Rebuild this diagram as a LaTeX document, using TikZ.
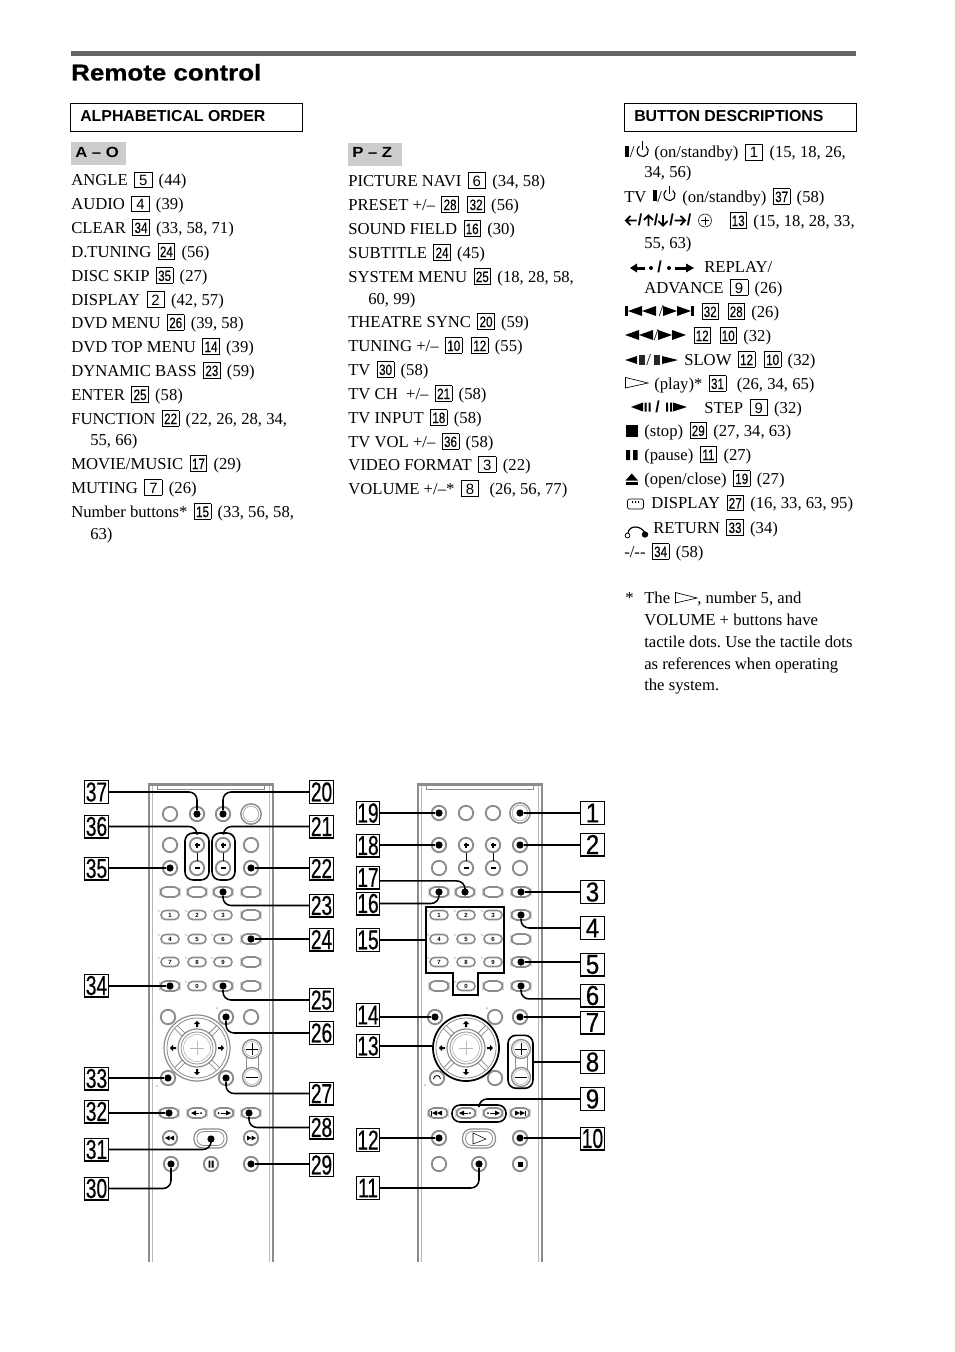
\documentclass[tikz,border=0pt]{standalone}
\usepackage{fontspec}
\usepackage{graphicx}
\setmainfont{Liberation Serif}
\newfontfamily\ssf{Liberation Sans}
\newfontfamily\ssfb[FakeBold=0.3]{Liberation Sans}
\newfontfamily\ssfc[FakeBold=0.6]{Liberation Sans}
\frenchspacing
\definecolor{rg}{gray}{0.55}
\definecolor{rl}{gray}{0.72}
\newcounter{tc}
\newcommand\tln[3]{\stepcounter{tc}\node[tx] (t\arabic{tc}) at (#1,#2) {#3};}
\newcommand\bxa[1]{\kern1.7pt\relax{\fboxsep=0pt\fboxrule=0.5pt\fbox{\makebox[12.6pt]{\rule[-1.2pt]{0pt}{10.9pt}\fontsize{11.2}{12}\ssf #1}}}\kern1.7pt\relax}
\newcommand\bxb[1]{\kern1.7pt\relax{\fboxsep=0pt\fboxrule=0.5pt\fbox{\makebox[12pt]{\rule[-1.2pt]{0pt}{10.9pt}\scalebox{0.78}[1]{\fontsize{11.2}{12}\ssfb #1}}}}\kern1.7pt\relax}
\newcommand\csa[1]{\scalebox{0.88}[1]{#1}}
\newcommand\csb[1]{\scalebox{0.70}[1]{#1}}
% remote parts
\newcommand\rbt[2]{\draw[rg,line width=1.4pt] (#1,#2) circle[radius=7.2];}
\newcommand\rbig[2]{\draw[rg,line width=1.1pt] (#1,#2) circle[radius=10.2]; \draw[rl,line width=.7pt] (#1,#2) circle[radius=7.8];}
\newcommand\ovb[2]{\draw[rg,line width=1.3pt,rounded corners=3.9pt] (#1-9.5,#2-5) rectangle (#1+9.5,#2+5);}
\newcommand\ovn[3]{\draw[rg,line width=1.2pt,rounded corners=3.3pt] (#1-9,#2-4.5) rectangle (#1+9,#2+4.5);
  \draw[rl,line width=.6pt] (#1-12,#2-5) -- (#1-10.5,#2-3.5);
  \stepcounter{tc}\node[tiny num] (t\arabic{tc}) at (#1,#2) {#3};}
\newcommand\plusb[2]{\rbt{#1}{#2}\draw[line width=.8pt] (#1-2.5,#2) -- (#1+2.5,#2) (#1,#2-2.5) -- (#1,#2+2.5);}
\newcommand\minb[2]{\rbt{#1}{#2}\draw[line width=.8pt] (#1-2.5,#2) -- (#1+2.5,#2);}
\newcommand\triL[4]{\fill (#1,#2) -- (#1+#3,#2-#4) -- (#1+#3,#2+#4) -- cycle;}
\newcommand\triR[4]{\fill (#1,#2-#4) -- (#1+#3,#2) -- (#1,#2+#4) -- cycle;}
\newcommand\arw[4]{\fill[shift={(#1,#2)},rotate=#3] (0,-3.2) -- (3,0) -- (1,0) -- (1,3) -- (-1,3) -- (-1,0) -- (-3,0) -- cycle;}
\newcommand\chev[3]{\draw[shift={(#1,#2)},rotate=#3,line width=1.25pt] (0,-5) -- (0,5.5) (-4.6,-.5) -- (0,-5.2) -- (4.6,-.5);}
\newcommand\dpd[2]{
  \draw[rg,line width=.9pt] (#1,#2) circle[radius=33];
  \draw[rg,line width=.6pt] (#1,#2) circle[radius=30];
  \draw[rg,line width=.9pt] (#1,#2) circle[radius=19];
  \draw[rg,line width=.6pt] (#1,#2) circle[radius=16];
  \draw[rl,line width=.5pt] (#1,#2) circle[radius=13.5];
  \foreach \a in {45,135,225,315}{
    \draw[rg,line width=.6pt,rotate around={\a:(#1,#2)}] (#1+19,#2-2) -- (#1+30,#2-2) (#1+19,#2+2) -- (#1+30,#2+2);}
  \draw[rl,line width=.4pt] (#1-7,#2) -- (#1+7,#2) (#1,#2-7) -- (#1,#2+7);
  \arw{#1}{#2-24}{0}{}\arw{#1}{#2+24}{180}{}\arw{#1-24}{#2}{90}{}\arw{#1+24}{#2}{270}{}
}
\newcommand\volp[1]{
  \draw[rg,line width=.7pt] (#1-6,1056) -- (#1-6,1070) (#1+6,1056) -- (#1+6,1070);
  \draw[rg,line width=1pt] (#1,1049) circle[radius=9.5] (#1,1077) circle[radius=9.5];
  \draw[rl,line width=.5pt] (#1,1049) circle[radius=7.5] (#1,1077) circle[radius=7.5];
  \draw[line width=.7pt] (#1-6,1049) -- (#1+6,1049) (#1,1043) -- (#1,1055) (#1-6,1077) -- (#1+6,1077);
}
\newcommand\bodyr[1]{
  \draw[rg,line width=1.6pt] (#1+.5,1262) -- (#1+.5,784.5) -- (#1+124.5,784.5) -- (#1+124.5,1262);
  \draw[rl,line width=1pt] (#1+4,1262) -- (#1+4,786);
  \draw[rl,line width=1pt] (#1+121,1262) -- (#1+121,786);
  \draw[rg,line width=.8pt] (#1+9,784) -- (#1+9,789.5) -- (#1+116,789.5) -- (#1+116,784);
}
\tikzset{
  tx/.style={anchor=base west,inner sep=0pt,font=\fontsize{12.5}{14}\selectfont},
  tiny num/.style={inner sep=0pt,font=\fontsize{4.5}{5}\ssf\bfseries},
  cbox/.style={draw,line width=.8pt,inner sep=0pt,minimum width=17.4pt,minimum height=17.2pt,font=\fontsize{20.5}{22}\ssfc},
  lead/.style={line width=1.15pt,rounded corners=6pt},
  dotn/.style={circle,fill=black,inner sep=0pt,minimum size=5.4pt},
  pillb/.style={draw,line width=1.2pt,rounded corners=6pt,inner sep=0pt},
  hdbox/.style={draw,line width=.8pt,anchor=north west,inner sep=0pt,minimum width=174pt,minimum height=20.5pt},
  hdtx/.style={anchor=base west,inner sep=0pt,font=\fontsize{11.9}{14}\ssf\bfseries},
  slash/.style={anchor=base west,inner sep=0pt,font=\fontsize{12}{14}\ssf\bfseries},
  grayb/.style={fill=black!20,anchor=north west,inner sep=0pt,minimum height=17.3pt},
}
\begin{document}
\begin{tikzpicture}[x=0.75pt,y=-0.75pt]
\useasboundingbox (0,0) rectangle (954,1352);
% ---- heading
\fill[black!60] (71,51) rectangle (856,56);
\node[anchor=base west,inner sep=0pt,font=\fontsize{17.2}{20}\ssfc] (title) at (71,80.5) {\scalebox{1.13}[1]{\bfseries Remote control}};
\node[hdbox] (h1) at (70,103.2) {};
\node[hdbox] (h2) at (623.8,103.2) {};
\node[hdtx] (h1t) at (80,121.3) {ALPHABETICAL ORDER};
\node[hdtx] (h2t) at (634,121.3) {BUTTON DESCRIPTIONS};
\node[grayb,minimum width=41.2pt] (g1) at (71,142) {};
\node[grayb,minimum width=40.5pt] (g2) at (348,143) {};
\node[anchor=base west,inner sep=0pt,font=\fontsize{11}{12}\ssf\bfseries] (g1t) at (75,157) {\scalebox{1.14}[1]{A – O}};
\node[anchor=base west,inner sep=0pt,font=\fontsize{11}{12}\ssf\bfseries] (g2t) at (352,158) {\scalebox{1.14}[1]{P – Z}};
% ---- left column
\tln{71}{185.6}{ANGLE \bxa{5} (44)}
\tln{71}{209.6}{AUDIO \bxa{4} (39)}
\tln{71}{233}{CLEAR \bxb{34} (33, 58, 71)}
\tln{71}{257}{D.TUNING \bxb{24} (56)}
\tln{71}{281}{DISC SKIP \bxb{35} (27)}
\tln{71}{305}{DISPLAY \bxa{2} (42, 57)}
\tln{71}{328}{DVD MENU \bxb{26} (39, 58)}
\tln{71}{352}{DVD TOP MENU \bxb{14} (39)}
\tln{71}{376}{DYNAMIC BASS \bxb{23} (59)}
\tln{71}{400}{ENTER \bxb{25} (58)}
\tln{71}{424}{FUNCTION \bxb{22} (22, 26, 28, 34,}
\tln{90}{445}{55, 66)}
\tln{71}{469}{MOVIE/MUSIC \bxb{17} (29)}
\tln{71}{493}{MUTING \bxa{7} (26)}
\tln{71}{517}{Number buttons* \bxb{15} (33, 56, 58,}
\tln{90}{539}{63)}
% ---- middle column
\tln{348}{186}{PICTURE NAVI \bxa{6} (34, 58)}
\tln{348}{210}{PRESET +/– \bxb{28} \bxb{32} (56)}
\tln{348}{234}{SOUND FIELD \bxb{16} (30)}
\tln{348}{258}{SUBTITLE \bxb{24} (45)}
\tln{348}{282}{SYSTEM MENU \bxb{25} (18, 28, 58,}
\tln{368}{304}{60, 99)}
\tln{348}{327}{THEATRE SYNC \bxb{20} (59)}
\tln{348}{351}{TUNING +/– \bxb{10} \bxb{12} (55)}
\tln{348}{375}{TV \bxb{30} (58)}
\tln{348}{399}{TV CH\ \ +/– \bxb{21} (58)}
\tln{348}{423}{TV INPUT \bxb{18} (58)}
\tln{348}{447}{TV VOL +/– \bxb{36} (58)}
\tln{348}{470}{VIDEO FORMAT \bxa{3} (22)}
\tln{348}{494}{VOLUME +/–* \bxa{8}\ \ (26, 56, 77)}
% ---- right column
\fill (625,146) rectangle (629.3,157);
\tln{629.5}{158}{/}
\draw[line width=.8pt] (645.9,146.4) arc[start angle=-55,end angle=235,radius=5.6];
\draw[line width=.8pt] (642.7,141.5) -- (642.7,150);
\tln{654}{158}{(on/standby) \bxa{1} (15, 18, 26,}
\tln{644}{178}{34, 56)}
\tln{624}{202}{TV}
\fill (652.5,190) rectangle (656.7,201);
\tln{657}{202}{/}
\draw[line width=.8pt] (672.7,190.4) arc[start angle=-55,end angle=235,radius=5.6];
\draw[line width=.8pt] (669.5,185.5) -- (669.5,194);
\tln{682}{202}{(on/standby) \bxb{37} (58)}
\chev{631}{220.5}{90}\chev{648.5}{220.5}{0}\chev{663}{220.5}{180}\chev{680}{220.5}{270}
\node[slash] (s1) at (637.5,225.5) {/};
\node[slash] (s2) at (653.5,225.5) {/};
\node[slash] (s3) at (669,225.5) {/};
\node[slash] (s4) at (686.5,225.5) {/};
\draw[line width=.4pt] (705,220.5) circle[radius=6.5];
\draw[line width=.4pt] (701,220.5) -- (709,220.5) (705,216.5) -- (705,224.5);
\tln{727}{226}{\bxb{13} (15, 18, 28, 33,}
\tln{644}{248}{55, 63)}
% replay / advance
\triL{630}{268}{7}{4.5}\fill (636,266.5) rectangle (645,269.5);\fill (651,268) circle[radius=2];
\node[slash] (t6s) at (657,272.5) {/};
\fill (669,268) circle[radius=2];\fill (675,266.5) rectangle (686,269.5);\triR{686}{268}{8}{4.5}
\tln{704}{272}{REPLAY/}
\tln{644}{293}{ADVANCE \bxa{9} (26)}
% prev/next
\fill (625,306) rectangle (627.5,316);\triL{628}{311}{14}{5}\triL{642}{311}{14}{5}
\tln{658.5}{316.5}{/}
\triR{663}{311}{14}{5}\triR{677}{311}{14}{5}\fill (691,306) rectangle (693.5,316);
\tln{699}{317}{\bxb{32} \bxb{28} (26)}
% rew / ff
\triL{625}{335}{14}{5}\triL{639}{335}{14}{5}
\tln{653.5}{340.5}{/}
\triR{658}{335}{14}{5}\triR{672}{335}{14}{5}
\tln{691}{341}{\bxb{12} \bxb{10} (32)}
% slow
\triL{625}{360}{12}{4}\fill[black!85] (639,354.5) rectangle (645,365);
\tln{646}{365}{/}
\fill[black!85] (654,354.5) rectangle (660,365);\triR{662}{360}{16}{4}
\tln{684}{365}{SLOW \bxb{12} \bxb{10} (32)}
% play
\draw[line width=.5pt,line join=miter] (625.5,377.5) -- (648,383) -- (625.5,388) -- cycle;
\tln{654}{389}{(play)* \bxb{31}\ \ (26, 34, 65)}
% step
\triL{631}{407}{12}{4.5}\fill (644.5,402.5) rectangle (646.5,411.5) (648.5,402.5) rectangle (650.5,411.5);
\node[slash] (t12s) at (655,412.5) {/};
\fill (666,402.5) rectangle (668,411.5) (670,402.5) rectangle (672,411.5);\triR{673}{407}{14}{4.5}
\tln{704}{413}{STEP \bxa{9} (32)}
% stop, pause, eject
\fill (625.5,425) rectangle (637.5,437);
\tln{644}{436}{(stop) \bxb{29} (27, 34, 63)}
\fill (626,450) rectangle (630,460) (633,450) rectangle (637.5,460);
\tln{644}{460}{(pause) \bxb{11} (27)}
\fill (631.7,473.5) -- (638,480.5) -- (625.5,480.5) -- cycle;
\fill (625.5,482) rectangle (638,484.5);
\tln{644}{484}{(open/close) \bxb{19} (27)}
% display
\draw[line width=.5pt,rounded corners=1.5pt] (627.5,499) rectangle (643.5,509);
\fill (632,501) rectangle (633,503) (635,501) rectangle (636,503) (638,501) rectangle (639,503);
\tln{651}{508.5}{DISPLAY \bxb{27} (16, 33, 63, 95)}
% return
\draw[line width=.6pt] (627.5,535.5) circle[radius=2.4];
\draw[line width=.9pt] (628,533) .. controls (629,525) and (641,525) .. (645,533);
\fill (645,534.5) circle[radius=3.2];
\tln{653}{533}{RETURN \bxb{33} (34)}
\tln{624}{557}{-/-{}- \bxb{34} (58)}
% footnote
\tln{625}{603.5}{*}
\tln{644}{603.5}{The}
\draw[line width=.5pt,line join=miter] (675.5,592.5) -- (697,598) -- (675.5,603) -- cycle;
\tln{697}{603.5}{, number 5, and}
\tln{644}{625.5}{VOLUME + buttons have}
\tln{644}{647.5}{tactile dots. Use the tactile dots}
\tln{644}{669}{as references when operating}
\tln{644}{690.5}{the system.}
% ---- remote A
\bodyr{148.5}
\rbt{170}{814}\rbt{197}{814}\rbt{223}{814}\rbig{251}{814}
\rbt{170}{845}\plusb{197}{845}\plusb{223}{845}\rbt{251}{845}
\rbt{170}{868}\minb{197}{868}\minb{223}{868}\rbt{251}{868}
\draw[line width=.5pt] (197,852.5) -- (197,860.5) (223,852.5) -- (223,860.5);
\foreach \xx in {170,197,223,251}{\ovb{\xx}{892}}
\ovn{170}{915}{1}\ovn{197}{915}{2}\ovn{223}{915}{3}\ovb{251}{915}
\ovn{170}{939}{4}\ovn{197}{939}{5}\ovn{223}{939}{6}\ovb{251}{939}
\ovn{170}{962}{7}\ovn{197}{962}{8}\ovn{223}{962}{9}\ovb{251}{962}
\ovb{170}{986}\ovn{197}{986}{0}\ovb{223}{986}\ovb{251}{986}
\rbt{168}{1017}\rbt{226}{1017}\rbt{251}{1017}
\fill[rl] (217,1008) circle[radius=1];
\dpd{197}{1048}
\rbt{168}{1078}\rbt{226}{1078}
\volp{252}
\fill[rl] (157,1086) circle[radius=1];
\ovb{169}{1113}\ovb{197}{1113}\ovb{224}{1113}\ovb{251}{1113}
\triL{191}{1113}{5}{2.5}\fill (195,1112.5) rectangle (199,1113.5);\fill (201,1113) circle[radius=1];
\triR{226}{1113}{5}{2.5}\fill (221,1112.5) rectangle (226,1113.5);\fill (218.5,1113) circle[radius=1];
\rbt{170}{1138}\rbt{251}{1138}
\triL{165}{1138}{4.5}{2.5}\triL{169.5}{1138}{4.5}{2.5}
\triR{247}{1138}{4.5}{2.5}\triR{251.5}{1138}{4.5}{2.5}
\draw[rg,line width=.9pt,rounded corners=6.5pt] (194,1129) rectangle (227,1148);
\draw[rg,line width=.6pt,rounded corners=5pt] (197,1131.5) rectangle (224,1145.5);
\rbt{171}{1164}\rbt{211}{1164}\rbt{251}{1164}
\fill (208.5,1160.5) rectangle (210.3,1167.5) (211.7,1160.5) rectangle (213.5,1167.5);
% dots and callouts A
\foreach \n/\xx/\yy in {37/197/814,20/223/814,35/170/868,22/251/868,23/223/892,24/251/939,34/170/986,25/223/986,26/226/1017,33/168/1078,27/226/1078,32/169/1113,28/249/1113,31/211/1139,29/251/1164,30/171/1164}{\node[dotn] (d\n) at (\xx,\yy) {};}
\node[pillb,minimum width=18pt,minimum height=35.2pt] (p36) at (197,856.5) {};
\node[pillb,minimum width=17.2pt,minimum height=35.2pt] (p21) at (223.5,856.5) {};
\node[cbox] (c37) at (96.5,792) {\csb{37}};
\node[cbox] (c36) at (96.5,826.5) {\csb{36}};
\node[cbox] (c35) at (96.5,868.5) {\csb{35}};
\node[cbox] (c34) at (96.5,985.5) {\csb{34}};
\node[cbox] (c33) at (96.5,1078.5) {\csb{33}};
\node[cbox] (c32) at (96.5,1111.5) {\csb{32}};
\node[cbox] (c31) at (96.5,1149.5) {\csb{31}};
\node[cbox] (c30) at (96.5,1188.5) {\csb{30}};
\node[cbox] (c20) at (321.5,792) {\csb{20}};
\node[cbox] (c21) at (321.5,826.5) {\csb{21}};
\node[cbox] (c22) at (321.5,868.5) {\csb{22}};
\node[cbox] (c23) at (321.5,905.5) {\csb{23}};
\node[cbox] (c24) at (321.5,939.5) {\csb{24}};
\node[cbox] (c25) at (321.5,1000) {\csb{25}};
\node[cbox] (c26) at (321.5,1033) {\csb{26}};
\node[cbox] (c27) at (321.5,1093.5) {\csb{27}};
\node[cbox] (c28) at (321.5,1127.5) {\csb{28}};
\node[cbox] (c29) at (321.5,1165) {\csb{29}};
\draw[lead] (c37.east) -| (d37);
\draw[lead] (c20.west) -| (d20);
\draw[lead] (c36.east) -| (p36.north);
\draw[lead] (c21.west) -| (p21.north);
\draw[lead] (d35) -- (d35 -| c35.east);
\draw[lead] (d22) -- (d22 -| c22.west);
\draw[lead] (c23.west) -| (d23);
\draw[lead] (d24) -- (d24 -| c24.west);
\draw[lead] (d34) -- (d34 -| c34.east);
\draw[lead] (c25.west) -| (d25);
\draw[lead] (c26.west) -| (d26);
\draw[lead] (c27.west) -| (d27);
\draw[lead] (d33) -- (d33 -| c33.east);
\draw[lead] (d32) -- (d32 -| c32.east);
\draw[lead] (c28.west) -| (d28);
\draw[lead] (c31.east) -| (d31);
\draw[lead] (d29) -- (d29 -| c29.west);
\draw[lead] (c30.east) -| (d30);
% ---- remote B
\bodyr{417.5}
\rbt{439}{813}\rbt{466}{813}\rbt{493}{813}\rbig{520}{813}
\rbt{439}{845}\plusb{466}{845}\plusb{493}{845}\rbt{520}{845}
\rbt{439}{868}\minb{466}{868}\minb{493}{868}\rbt{520}{868}
\draw[line width=.5pt] (466,852.5) -- (466,860.5) (493,852.5) -- (493,860.5);
\ovb{439}{892}\ovb{465}{892}\ovb{493}{892}\ovb{521}{892}
\ovn{439}{915}{1}\ovn{466}{915}{2}\ovn{493}{915}{3}\ovb{521}{915}
\ovn{439}{939}{4}\ovn{466}{939}{5}\ovn{493}{939}{6}\ovb{521}{939}
\ovn{439}{962}{7}\ovn{466}{962}{8}\ovn{493}{962}{9}\ovb{521}{962}
\ovb{439}{986}\ovn{466}{986}{0}\ovb{493}{986}\ovb{521}{986}
\rbt{435}{1017}\rbt{495}{1017}\rbt{520}{1017}
\fill[rl] (487,1008) circle[radius=1];
\dpd{466}{1048}
\rbt{437}{1078}\rbt{495}{1078}
\draw[line width=.6pt] (433.5,1079) arc[start angle=180,end angle=360,radius=3.5];
\volp{521}
\fill[rl] (425,1085) circle[radius=1];
\ovb{438}{1113}\ovb{466}{1113}\ovb{493}{1113}\ovb{520}{1113}
\fill (431,1110.5) rectangle (432,1115.5);\triL{432}{1113}{5}{2.5}\triL{437}{1113}{5}{2.5}
\triL{459}{1113}{5}{2.5}\fill (463,1112.5) rectangle (468,1113.5);\fill (470,1113) circle[radius=1];
\triR{495}{1113}{5}{2.5}\fill (490,1112.5) rectangle (495,1113.5);\fill (488,1113) circle[radius=1];
\triR{515}{1113}{5}{2.5}\triR{520}{1113}{5}{2.5}\fill (525,1110.5) rectangle (526,1115.5);
\rbt{439}{1138}\rbt{520}{1138}
\draw[rg,line width=.9pt,rounded corners=6.5pt] (462.5,1129) rectangle (495.5,1148);
\draw[rg,line width=.6pt,rounded corners=5pt] (465.5,1131.5) rectangle (492.5,1145.5);
\draw[line width=.4pt] (473,1133) -- (486,1139) -- (473,1144) -- cycle;
\rbt{439}{1164}\rbt{479}{1164}\rbt{520}{1164}
\fill (517.5,1161.5) rectangle (522.5,1166.5);
\foreach \n/\xx/\yy in {19/439/813,1/520/813,18/439/845,2/520/845,17/465/892,16/439/892,3/521/892,4/521/915,5/521/962,6/521/986,14/435/1017,7/520/1017,12/439/1138,10/520/1138,11/479/1164}{\node[dotn] (d\n) at (\xx,\yy) {};}
\draw[line width=1.1pt,line join=miter] (426,907) -- (504,907) -- (504,973) -- (478,973) -- (478,995) -- (453,995) -- (453,973) -- (426,973) -- cycle;
\coordinate (b15) at (426,940);
\node[circle,draw,line width=1.3pt,inner sep=0pt,minimum size=49.5pt] (k13) at (466,1048) {};
\node[pillb,minimum width=18.7pt,minimum height=39.7pt] (p8) at (520.5,1061.8) {};
\node[pillb,minimum width=40.5pt,minimum height=12.7pt] (p9) at (479,1113.5) {};
\node[cbox] (c19) at (368,813) {\csb{19}};
\node[cbox] (c18) at (368,845.5) {\csb{18}};
\node[cbox] (c17) at (368,877.5) {\csb{17}};
\node[cbox] (c16) at (368,903.5) {\csb{16}};
\node[cbox] (c15) at (368,940) {\csb{15}};
\node[cbox] (c14) at (368,1015) {\csb{14}};
\node[cbox] (c13) at (368,1046) {\csb{13}};
\node[cbox] (c12) at (368,1140) {\csb{12}};
\node[cbox] (c11) at (368,1188) {\csb{11}};
\node[cbox] (c1) at (592.5,813) {\csa{1}};
\node[cbox] (c2) at (592.5,844.5) {\csa{2}};
\node[cbox] (c3) at (592.5,892) {\csa{3}};
\node[cbox] (c4) at (592.5,928) {\csa{4}};
\node[cbox] (c5) at (592.5,964.5) {\csa{5}};
\node[cbox] (c6) at (592.5,995.5) {\csa{6}};
\node[cbox] (c7) at (592.5,1022.5) {\csa{7}};
\node[cbox] (c8) at (592.5,1062) {\csa{8}};
\node[cbox] (c9) at (592.5,1099) {\csa{9}};
\node[cbox] (c10) at (592.5,1138.5) {\csb{10}};
\draw[lead] (d19) -- (d19 -| c19.east);
\draw[lead] (d1) -- (d1 -| c1.west);
\draw[lead] (d18) -- (d18 -| c18.east);
\draw[lead] (d2) -- (d2 -| c2.west);
\draw[lead] ([yshift=-2.6pt]c17.east) -| (d17);
\draw[lead] (c16.east) -| (d16);
\draw[lead] (d3) -- (d3 -| c3.west);
\draw[lead] (c4.west) -| (d4);
\draw[lead] (c15.east) -- (b15);
\draw[lead] (d5) -- (d5 -| c5.west);
\draw[lead] ([yshift=-2.6pt]c6.west) -| (d6);
\draw[lead] (d14) -- (d14 -| c14.east);
\draw[lead] (d7) -- (d7 -| c7.west);
\draw[lead] (c13.east) -- (c13.east -| k13.west);
\draw[lead] (p8.east) -- (p8.east -| c8.west);
\draw[lead] (c9.west) -| (p9.north);
\draw[lead] (d12) -- (d12 -| c12.east);
\draw[lead] (d10) -- (d10 -| c10.west);
\draw[lead] (c11.east) -| (d11);
\end{tikzpicture}
\end{document}
